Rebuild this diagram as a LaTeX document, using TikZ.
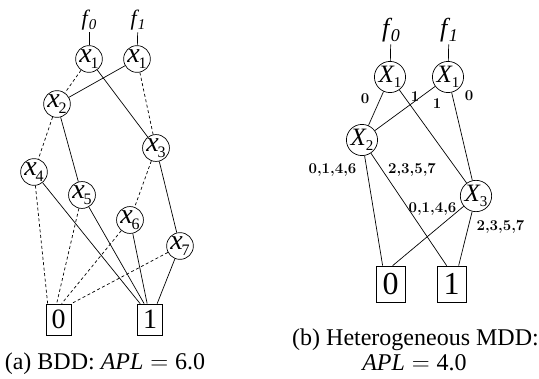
\documentclass[tikz,border=0pt]{standalone}
\usepackage{fontspec}
\newfontfamily\tms{Liberation Serif}
\newcommand\lvar[1]{{\fontsize{28}{28}\selectfont\tms\itshape x\kern-1pt\raisebox{-0.2em}{\fontsize{16}{16}\selectfont\upshape #1}}}
\newcommand\rvar[1]{{\fontsize{25}{25}\selectfont\tms\itshape X\kern0pt\raisebox{-0.2em}{\fontsize{15}{15}\selectfont\upshape #1}}}
\newcommand\lfun[1]{{\fontsize{22}{22}\selectfont\tms\itshape f\kern1pt\raisebox{-0.2em}{\fontsize{15}{15}\selectfont #1}}}
\newcommand\rfun[1]{{\fontsize{26}{26}\selectfont\tms\itshape f\kern1.5pt\raisebox{-0.2em}{\fontsize{18}{18}\selectfont #1}}}
\begin{document}
\begin{tikzpicture}[x=1pt,y=-1pt,line width=0.7pt,
  bddnode/.style={circle,draw,minimum size=24pt,inner sep=0pt},
  mddnode/.style={circle,draw,minimum size=28pt,inner sep=0pt},
  lterm/.style={draw,minimum width=25pt,minimum height=31pt,inner sep=0pt,font=\fontsize{28}{28}\selectfont\tms},
  rterm/.style={draw,minimum width=29pt,minimum height=36pt,inner sep=0pt,font=\fontsize{32}{32}\selectfont\tms},
  funlbl/.style={inner sep=2pt},
  zeroedge/.style={dash pattern=on 3pt off 2.5pt},
  lbl/.style={font=\fontsize{15}{15}\selectfont\bfseries,inner sep=0pt},
  caption/.style={font=\fontsize{24}{24}\selectfont\tms,anchor=base,inner sep=0pt}]
\useasboundingbox (0,0) rectangle (539,379);
% ---------- (a) BDD ----------
\node[funlbl] (fa0) at (89,20) {\lfun{0}};
\node[funlbl] (fa1) at (138,20) {\lfun{1}};
\node[bddnode] (a1) at (89,59) {\lvar{1}};
\node[bddnode] (b1) at (137,59) {\lvar{1}};
\node[bddnode] (a2) at (57,104) {\lvar{2}};
\node[bddnode] (a3) at (156,148) {\lvar{3}};
\node[bddnode] (a4) at (34,172) {\lvar{4}};
\node[bddnode] (a5) at (82,195) {\lvar{5}};
\node[bddnode] (a6) at (130,220) {\lvar{6}};
\node[bddnode] (a7) at (180,246) {\lvar{7}};
\node[lterm] (t0) at (58.5,319.5) {0};
\node[lterm] (t1) at (150,319.5) {1};
\draw (fa0) -- (a1);
\draw (fa1) -- (b1);
\draw[zeroedge] (a1) -- (a2);
\draw (a1) -- (a3);
\draw (b1) -- (a2);
\draw[zeroedge] (b1) -- (a3);
\draw[zeroedge] (a2) -- (a4);
\draw (a2) -- (a5);
\draw[zeroedge] (a3) -- (a6);
\draw (a3) -- (a7);
\draw[zeroedge] (a4) -- ([xshift=2pt]t0.north west);
\draw[zeroedge] (a5) -- ([xshift=11pt]t0.north west);
\draw[zeroedge] (a6) -- ([xshift=16pt]t0.north west);
\draw[zeroedge] (a7) -- (t0.north east);
\draw (a4) -- ([xshift=3pt]t1.north west);
\draw (a5) -- ([xshift=7pt]t1.north west);
\draw (a6) -- ([xshift=10pt]t1.north west);
\draw (a7) -- ([xshift=20pt]t1.north west);
\node[caption] (capa) at (105,370) {(a) BDD: \textit{APL}$\;=\;$6.0};
% ---------- (b) MDD ----------
\node[funlbl] (fb0) at (391,30) {\rfun{0}};
\node[funlbl] (fb1) at (449,30) {\rfun{1}};
\node[mddnode] (m1) at (390,77) {\rvar{1}};
\node[mddnode] (n1) at (448,77) {\rvar{1}};
\node[mddnode] (m2) at (362,140) {\rvar{2}};
\node[mddnode] (m3) at (476,196) {\rvar{3}};
\node[rterm] (u0) at (390.5,284) {0};
\node[rterm] (u1) at (451.5,284) {1};
\draw (fb0) -- (m1);
\draw (fb1) -- (n1);
\draw (m1) -- (m2);
\draw (m1) -- (m3);
\draw (n1) -- (m2);
\draw (n1) -- (m3);
\draw (m2) -- ([xshift=7pt]u0.north west);
\draw (m3) -- ([xshift=17pt]u0.north west);
\draw (m2) -- ([xshift=10pt]u1.north west);
\draw (m3) -- ([xshift=22pt]u1.north west);
\node[lbl] (l1) at (365,99) {0};
\node[lbl] (l2) at (415,97) {1};
\node[lbl] (l3) at (437,104) {1};
\node[lbl] (l4) at (469,96) {0};
\node[lbl] (l5) at (332.5,170) {0,1,4,6};
\node[lbl] (l6) at (412,170) {2,3,5,7};
\node[lbl] (l7) at (432.5,209) {0,1,4,6};
\node[lbl] (l8) at (500.5,227) {2,3,5,7};
\node[caption] (capb1) at (415.5,346) {(b) Heterogeneous MDD:};
\node[caption] (capb2) at (414.5,371) {\textit{APL}$\;=\;$4.0};
\end{tikzpicture}
\end{document}
